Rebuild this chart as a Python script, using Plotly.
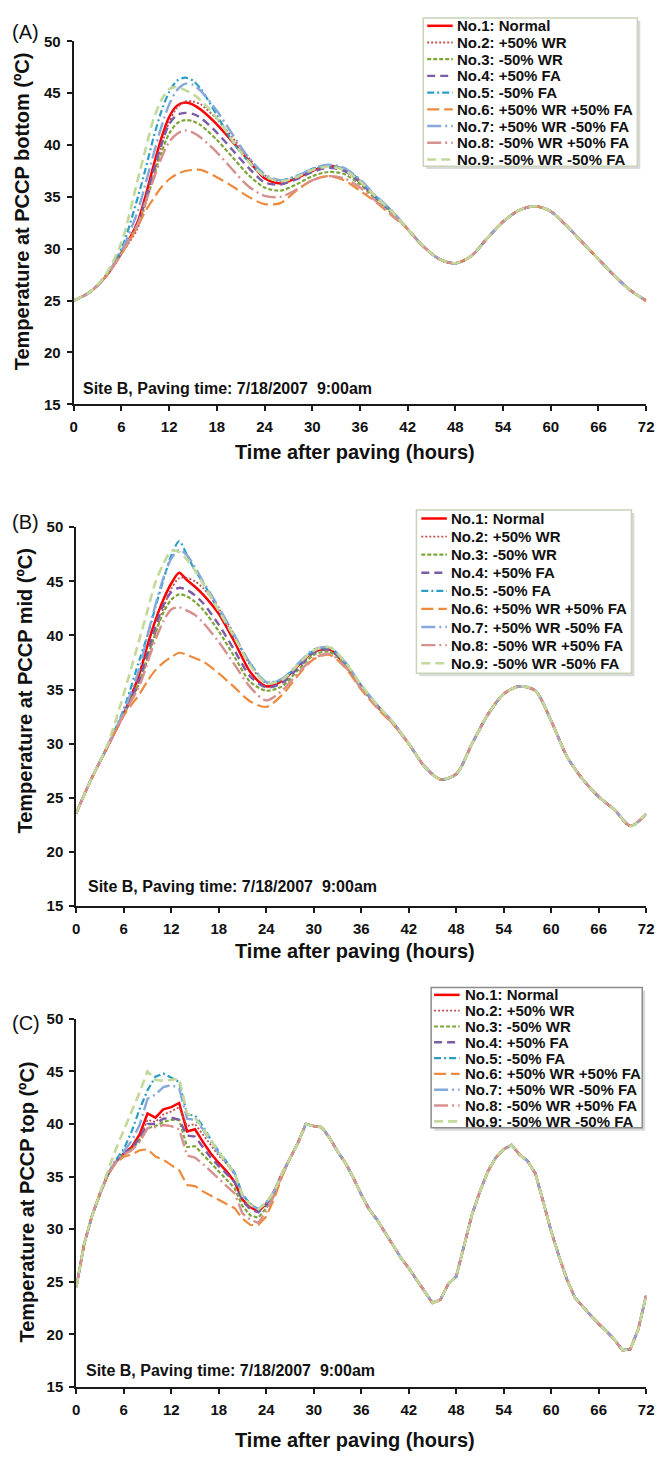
import plotly.graph_objects as go

W, H = 664, 1459
FONT = "Liberation Sans, Arial, sans-serif"

# ---------------- series metadata ----------------
names = ["No.1: Normal", "No.2: +50% WR", "No.3: -50% WR", "No.4: +50% FA", "No.5: -50% FA",
         "No.6: +50% WR +50% FA", "No.7: +50% WR -50% FA", "No.8: -50% WR +50% FA",
         "No.9: -50% WR -50% FA"]
colors = ["#FF0000", "#C0504D", "#7DA63A", "#7B5CA6", "#2C9EC2",
          "#EE8A3C", "#86A8DA", "#D6908E", "#C2D99A"]
dashes = ["solid", "2px,2px", "4px,2px", "8px,5px", "7px,3px,2px,3px",
          "12px,5px", "14px,4px,2px,4px", "14px,4px,2px,4px", "9px,5px"]
widths = [2.5, 1.8, 2.2, 2.4, 2.2, 2.2, 2.4, 2.4, 2.6]

x_ticks = [0, 6, 12, 18, 24, 30, 36, 42, 48, 54, 60, 66, 72]
y_ticks = [15, 20, 25, 30, 35, 40, 45, 50]

# ---------------- Panel A: PCCP bottom ----------------
hours_ab_head = [0, 2, 4, 6, 8, 9, 10, 11, 12, 13, 14, 15, 16, 18, 20, 22, 24, 26, 28, 30, 32, 34, 36, 38, 40]
hours_ab_tail = [42, 44, 46, 48, 50, 52, 54, 56, 58, 60, 62, 64, 66, 68, 70, 72]

a1 = [25.0, 25.8, 27.3, 29.6, 32.5, 35.0, 37.9, 40.6, 42.7, 43.8, 44.1, 43.9, 43.4, 42.0, 40.3, 38.5, 36.8, 36.3, 36.8, 37.5, 38.0, 37.6, 36.5, 35.0, 33.6]
a2 = [25.0, 25.8, 27.3, 29.5, 31.9, 34.2, 36.9, 39.8, 42.2, 43.6, 44.2, 44.2, 43.9, 42.5, 40.7, 38.8, 37.1, 36.5, 36.9, 37.6, 38.0, 37.7, 36.6, 35.0, 33.6]
a3 = [25.0, 25.8, 27.3, 29.6, 32.2, 34.4, 36.8, 39.2, 41.1, 42.1, 42.4, 42.3, 41.9, 40.5, 38.8, 37.1, 35.9, 35.6, 36.2, 37.0, 37.4, 37.2, 36.2, 34.8, 33.4]
a4 = [25.0, 25.8, 27.3, 29.6, 32.3, 34.7, 37.4, 40.0, 42.0, 42.9, 43.1, 43.0, 42.6, 41.2, 39.5, 37.8, 36.4, 36.2, 36.7, 37.4, 37.8, 37.5, 36.4, 34.9, 33.5]
a5 = [25.0, 25.8, 27.4, 30.0, 34.8, 37.6, 40.6, 43.2, 45.1, 46.2, 46.5, 46.2, 45.4, 42.9, 40.3, 38.4, 37.0, 36.6, 37.0, 37.7, 38.0, 37.7, 36.6, 35.0, 33.6]
a6 = [25.0, 25.8, 27.3, 29.5, 32.1, 33.6, 34.8, 35.9, 36.7, 37.2, 37.5, 37.6, 37.6, 36.9, 36.0, 35.0, 34.3, 34.4, 35.6, 36.6, 37.0, 36.6, 35.6, 34.5, 33.2]
a7 = [25.0, 25.8, 27.3, 29.8, 33.5, 36.2, 39.0, 41.7, 43.9, 45.3, 45.9, 45.8, 45.2, 43.3, 41.0, 38.8, 37.2, 36.6, 37.0, 37.7, 38.1, 37.8, 36.7, 35.1, 33.7]
a8 = [25.0, 25.8, 27.3, 29.6, 32.3, 34.4, 36.6, 38.7, 40.3, 41.1, 41.4, 41.2, 40.7, 39.3, 37.6, 36.0, 35.1, 35.0, 35.7, 36.6, 37.0, 36.8, 35.9, 34.6, 33.3]
a9 = [25.0, 25.8, 27.5, 30.6, 36.5, 39.5, 42.4, 44.3, 45.4, 45.6, 45.3, 44.9, 44.3, 42.6, 40.4, 38.4, 37.0, 36.5, 36.9, 37.6, 37.9, 37.6, 36.5, 35.0, 33.6]
a_tail = [31.9, 30.2, 29.0, 28.6, 29.3, 31.0, 32.6, 33.7, 34.1, 33.6, 32.2, 30.6, 29.0, 27.4, 26.0, 25.0]

# ---------------- Panel B: PCCP mid ----------------
b1 = [23.6, 26.9, 29.8, 32.8, 36.5, 39.1, 41.4, 43.3, 44.8, 45.8, 45.1, 44.5, 43.8, 42.0, 39.4, 36.6, 35.3, 35.8, 37.2, 38.5, 38.7, 37.3, 35.3, 33.5, 31.9]
b2 = [23.6, 26.9, 29.8, 32.7, 35.6, 37.8, 40.2, 42.5, 44.3, 45.3, 45.3, 45.0, 44.4, 42.5, 40.0, 37.2, 35.6, 35.9, 37.2, 38.5, 38.8, 37.4, 35.4, 33.6, 32.0]
b3 = [23.6, 26.9, 29.8, 32.7, 35.8, 38.0, 40.2, 42.1, 43.3, 43.8, 43.6, 43.1, 42.4, 40.4, 38.0, 35.7, 34.9, 35.3, 36.8, 38.2, 38.5, 37.2, 35.2, 33.4, 31.9]
b4 = [23.6, 26.9, 29.8, 32.7, 36.0, 38.4, 40.8, 42.8, 44.0, 44.4, 44.2, 43.7, 43.0, 41.0, 38.6, 36.2, 35.2, 35.6, 37.0, 38.4, 38.7, 37.3, 35.3, 33.5, 31.9]
b5 = [23.6, 26.9, 29.9, 33.2, 37.8, 40.0, 42.6, 45.1, 47.4, 48.7, 47.4, 46.0, 44.9, 42.3, 39.8, 37.4, 35.7, 35.9, 37.3, 38.6, 38.9, 37.5, 35.4, 33.6, 32.0]
b6 = [23.6, 26.9, 29.8, 32.6, 34.6, 35.8, 36.8, 37.5, 38.0, 38.4, 38.2, 37.9, 37.6, 36.5, 35.2, 33.9, 33.4, 34.5, 36.3, 37.8, 38.2, 37.0, 35.0, 33.3, 31.8]
b7 = [23.6, 26.9, 29.9, 33.0, 37.0, 40.0, 42.8, 45.3, 47.1, 47.9, 47.4, 46.3, 45.0, 42.6, 40.0, 37.4, 35.7, 36.0, 37.4, 38.7, 38.9, 37.5, 35.4, 33.6, 32.0]
b8 = [23.6, 26.9, 29.8, 32.7, 35.4, 37.5, 39.6, 41.3, 42.4, 42.6, 42.3, 41.9, 41.2, 39.4, 37.3, 35.2, 34.0, 34.9, 36.5, 37.9, 38.3, 37.1, 35.1, 33.4, 31.9]
b9 = [23.6, 26.9, 30.0, 34.6, 39.7, 42.3, 44.9, 46.6, 47.8, 47.7, 47.0, 46.0, 44.8, 42.3, 39.8, 37.2, 35.6, 35.9, 37.3, 38.6, 38.9, 37.5, 35.4, 33.6, 32.0]
b_tail = [30.0, 27.9, 26.7, 27.2, 30.0, 32.7, 34.6, 35.3, 34.9, 32.1, 28.8, 26.7, 25.1, 23.9, 22.4, 23.5]

# ---------------- Panel C: PCCP top ----------------
hours_c_head = list(range(0, 27))
hours_c_tail = list(range(27, 73))

c1 = [24.5, 28.6, 31.3, 33.4, 35.2, 36.4, 37.2, 37.8, 39.0, 41.0, 40.6, 41.4, 41.6, 42.0, 39.3, 39.5, 38.3, 37.2, 36.3, 35.5, 34.5, 32.8, 32.1, 31.7, 32.4, 33.6, 35.3]
c2 = [24.5, 28.6, 31.3, 33.4, 35.2, 36.4, 37.1, 37.6, 38.6, 40.4, 40.2, 40.9, 41.2, 41.6, 39.8, 40.0, 39.0, 38.0, 37.0, 36.2, 35.2, 33.3, 32.4, 31.9, 32.5, 33.6, 35.3]
c3 = [24.5, 28.6, 31.3, 33.4, 35.2, 36.4, 37.2, 37.6, 38.4, 39.6, 39.8, 40.2, 40.4, 40.4, 37.8, 37.9, 37.1, 36.3, 35.6, 34.7, 33.9, 32.2, 31.3, 31.1, 32.0, 33.3, 35.1]
c4 = [24.5, 28.6, 31.3, 33.4, 35.2, 36.4, 37.2, 37.7, 38.7, 40.0, 40.0, 40.5, 40.6, 40.4, 38.9, 38.8, 37.8, 36.8, 36.0, 35.2, 34.5, 32.7, 31.9, 31.6, 32.3, 33.5, 35.2]
c5 = [24.5, 28.6, 31.3, 33.4, 35.3, 36.6, 37.6, 39.3, 41.4, 43.2, 44.5, 44.8, 44.4, 44.0, 40.9, 40.8, 39.8, 38.5, 37.4, 36.4, 35.4, 33.3, 32.4, 31.9, 32.5, 33.6, 35.3]
c6 = [24.5, 28.6, 31.3, 33.4, 35.2, 36.3, 36.9, 37.1, 37.5, 37.6, 36.9, 36.6, 36.1, 35.6, 34.2, 34.1, 33.6, 33.2, 32.8, 32.4, 32.0, 31.0, 30.4, 30.4, 31.2, 32.9, 35.0]
c7 = [24.5, 28.6, 31.3, 33.4, 35.2, 36.5, 37.4, 38.4, 39.9, 42.4, 42.8, 43.5, 43.7, 43.4, 40.5, 40.4, 39.5, 38.3, 37.2, 36.3, 35.3, 33.2, 32.3, 31.9, 32.5, 33.6, 35.3]
c8 = [24.5, 28.6, 31.3, 33.4, 35.2, 36.4, 37.1, 37.5, 38.3, 39.6, 39.7, 39.9, 39.8, 39.5, 37.0, 36.8, 36.2, 35.5, 34.8, 34.1, 33.4, 31.5, 30.9, 30.6, 31.7, 33.2, 35.2]
c9 = [24.5, 28.6, 31.3, 33.5, 35.6, 37.6, 39.4, 41.3, 43.0, 45.0, 44.2, 44.1, 44.2, 44.3, 41.0, 40.6, 39.6, 38.4, 37.3, 36.3, 35.3, 33.2, 32.3, 31.9, 32.5, 33.6, 35.3]
c_tail = [36.7, 38.2, 40.0, 39.8, 39.7, 38.7, 37.4, 36.3, 34.9, 33.3, 31.9, 30.9, 29.7, 28.5, 27.3, 26.3,
          25.2, 24.2, 23.0, 23.3, 24.8, 25.5, 28.6, 31.4, 33.6, 35.5, 36.8, 37.6, 38.0, 37.1, 36.5, 35.3,
          32.6, 29.8, 27.4, 25.2, 23.5, 22.6, 21.8, 21.0, 20.3, 19.5, 18.5, 18.6, 20.5, 23.7]

panel_letters = ["(A)", "(B)", "(C)"]
y_titles = ["Temperature at PCCP bottom (ºC)", "Temperature at PCCP mid (ºC)", "Temperature at PCCP top (ºC)"]
x_title = "Time after paving (hours)"
note = "Site B, Paving time: 7/18/2007  9:00am"

# ---------------- layout geometry (pixels) ----------------
panels = [
    dict(series=[a1, a2, a3, a4, a5, a6, a7, a8, a9], tail=a_tail,
         hx=hours_ab_head, tx=hours_ab_tail, shape="spline",
         x0=71, x1=654, ytop=32.7, ybot=400.0,
         letter=(22, 23), ytitle=(18, 205), xtitle=(357, 448), note=(78, 384),
         leg_box=(427, 9, 645, 159), leg_row0=17.0, leg_dy=16.9, leg_sx=(431, 457), leg_tx=459,
         leg_border="#C9D3B8"),
    dict(series=[b1, b2, b3, b4, b5, b6, b7, b8, b9], tail=b_tail,
         hx=hours_ab_head, tx=hours_ab_tail, shape="spline",
         x0=73.6, x1=654, ytop=524.3, ybot=907.7,
         letter=(22, 519), ytitle=(21, 690), xtitle=(357, 953), note=(83, 888),
         leg_box=(420, 507, 639, 672), leg_row0=515.5, leg_dy=18.3, leg_sx=(425, 451), leg_tx=453,
         leg_border="#C9D3B8"),
    dict(series=[c1, c2, c3, c4, c5, c6, c7, c8, c9], tail=c_tail,
         hx=hours_c_head, tx=hours_c_tail, shape="linear",
         x0=73.6, x1=654, ytop=1021.7, ybot=1394.3,
         letter=(22, 1026), ytitle=(23, 1207), xtitle=(357, 1448), note=(81, 1378),
         leg_box=(435, 990, 650, 1132), leg_row0=997.5, leg_dy=16.0, leg_sx=(438, 464), leg_tx=467,
         leg_border="#8C8C8C"),
]


def px(x):
    return x / W


def py(y):
    return 1 - y / H


fig = go.Figure()
shapes = []
annotations = []
layout_axes = {}

for p, pan in enumerate(panels):
    sfx = "" if p == 0 else str(p + 1)
    xa, ya = "x" + sfx, "y" + sfx
    for i, s in enumerate(pan["series"]):
        fig.add_trace(go.Scatter(
            x=pan["hx"] + pan["tx"], y=s + pan["tail"], mode="lines", name=names[i],
            showlegend=False, xaxis=xa, yaxis=ya,
            line=dict(color=colors[i], width=widths[i], dash=dashes[i],
                      shape=pan["shape"], smoothing=0.8 if pan["shape"] == "spline" else None),
            hoverinfo="skip"))

    axis_common = dict(showline=True, linecolor="#1a1a1a", linewidth=2, ticks="outside",
                       ticklen=5, tickwidth=2, tickcolor="#1a1a1a", showgrid=False, zeroline=False,
                       tickfont=dict(family=FONT, size=15, color="#111", weight="bold"))
    layout_axes["xaxis" + sfx] = dict(axis_common, domain=[px(pan["x0"]), px(pan["x1"])],
                                      range=[0, 72], tickvals=x_ticks, anchor=ya,
                                      ticklabelstandoff=3)
    layout_axes["yaxis" + sfx] = dict(axis_common, domain=[py(pan["ybot"]), py(pan["ytop"])],
                                      range=[15, 50], tickvals=y_ticks, anchor=xa,
                                      ticklabelstandoff=3)

    # text decorations
    lx, ly = pan["letter"]
    annotations.append(dict(x=px(lx), y=py(ly), xref="paper", yref="paper", text=panel_letters[p],
                            showarrow=False, xanchor="center", yanchor="middle",
                            font=dict(family=FONT, size=20, color="#111")))
    tx, ty = pan["ytitle"]
    annotations.append(dict(x=px(tx), y=py(ty), xref="paper", yref="paper", text="<b>" + y_titles[p] + "</b>",
                            showarrow=False, textangle=-90, xanchor="center", yanchor="middle",
                            font=dict(family=FONT, size=20, color="#111")))
    tx, ty = pan["xtitle"]
    annotations.append(dict(x=px(tx), y=py(ty), xref="paper", yref="paper", text="<b>" + x_title + "</b>",
                            showarrow=False, xanchor="center", yanchor="middle",
                            font=dict(family=FONT, size=20, color="#111")))
    nx, ny = pan["note"]
    annotations.append(dict(x=px(nx), y=py(ny), xref="paper", yref="paper", text="<b>" + note + "</b>",
                            showarrow=False, xanchor="left", yanchor="middle",
                            font=dict(family=FONT, size=16, color="#111")))

    # legend (box, samples, labels)
    bx0, by0, bx1, by1 = pan["leg_box"]
    shapes.append(dict(type="rect", xref="paper", yref="paper", x0=px(bx0 + 3), x1=px(bx1 + 3),
                       y0=py(by1 + 3), y1=py(by0 + 3), line=dict(width=0), fillcolor="#D9D9D9", layer="above"))
    shapes.append(dict(type="rect", xref="paper", yref="paper", x0=px(bx0), x1=px(bx1),
                       y0=py(by1), y1=py(by0), line=dict(color=pan["leg_border"], width=1.5),
                       fillcolor="white", layer="above"))
    sx0, sx1 = pan["leg_sx"]
    for i in range(len(names)):
        ry = pan["leg_row0"] + i * pan["leg_dy"]
        shapes.append(dict(type="line", xref="paper", yref="paper", x0=px(sx0), x1=px(sx1),
                           y0=py(ry), y1=py(ry), layer="above",
                           line=dict(color=colors[i], width=widths[i], dash=dashes[i])))
        annotations.append(dict(x=px(pan["leg_tx"]), y=py(ry), xref="paper", yref="paper",
                                text="<b>" + names[i] + "</b>", showarrow=False,
                                xanchor="left", yanchor="middle",
                                font=dict(family=FONT, size=15, color="#111")))

fig.update_layout(
    width=W, height=H, margin=dict(l=0, r=0, t=0, b=0),
    paper_bgcolor="white", plot_bgcolor="white", showlegend=False,
    shapes=shapes, annotations=annotations,
    font=dict(family=FONT, color="#111"),
    **layout_axes)

fig.write_html("out.html")
